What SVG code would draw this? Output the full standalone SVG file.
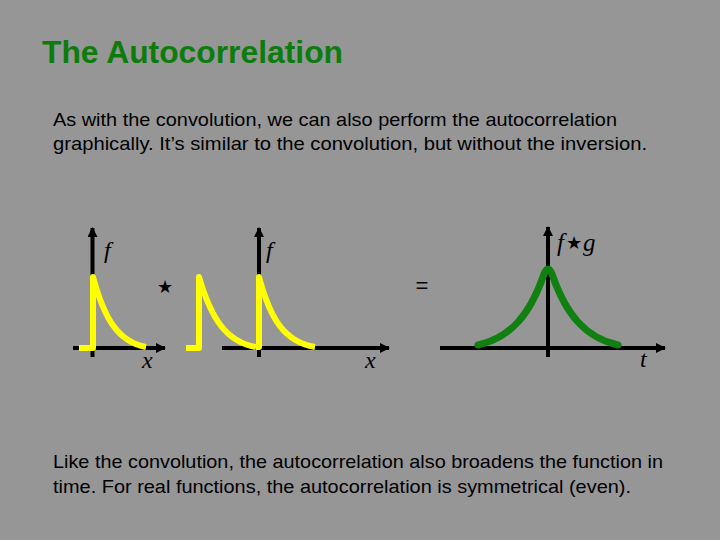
<svg xmlns="http://www.w3.org/2000/svg" width="720" height="540" viewBox="0 0 720 540">
<defs>
<marker id="ah" viewBox="0 0 10 10" refX="9" refY="5" markerWidth="10" markerHeight="10" markerUnits="userSpaceOnUse" orient="auto">
<path d="M0,0 L10,5 L0,10 z" fill="#000"/>
</marker>
<style>
.ax{stroke:#000;stroke-width:4;fill:none}
.yl{stroke:#ffff00;stroke-width:6;fill:none;stroke-linejoin:round}
.gr{stroke:#108010;stroke-width:7;fill:none;stroke-linecap:round;stroke-linejoin:round}
.body{font-family:"Liberation Sans",Arial,sans-serif;font-size:19px;fill:#000}
.math{font-family:"Liberation Serif","Times New Roman",serif;font-style:italic;font-size:24px;fill:#000}
</style>
</defs>
<rect width="720" height="540" fill="#969696"/>
<text x="42" y="63" font-family="Liberation Sans,Arial,sans-serif" font-size="32" font-weight="bold" fill="#0c7c0c" textLength="301" lengthAdjust="spacingAndGlyphs">The Autocorrelation</text>
<g id="intro" class="body">
<text x="53" y="126" textLength="564" lengthAdjust="spacingAndGlyphs">As with the convolution, we can also perform the autocorrelation</text>
<text x="53" y="149.5" textLength="594" lengthAdjust="spacingAndGlyphs">graphically.  It’s similar to the convolution, but without the inversion.</text>
</g>
<g id="connectors">
<line class="ax" x1="73" y1="348" x2="165" y2="348" marker-end="url(#ah)"/>
<line class="ax" x1="92.5" y1="357" x2="92.5" y2="228" marker-end="url(#ah)"/>
<line class="ax" x1="222" y1="348" x2="389" y2="348" marker-end="url(#ah)"/>
<line class="ax" x1="259" y1="357" x2="259" y2="228" marker-end="url(#ah)"/>
<line class="ax" x1="440" y1="348" x2="665" y2="348" marker-end="url(#ah)"/>
<line class="ax" x1="548" y1="357" x2="548" y2="227" marker-end="url(#ah)"/>
</g>
<g id="plot1">
<path class="yl" d="M79,348 L93,348 L93,277 C104,318 118,342 146,347"/>
<text class="math" x="104" y="258">f</text>
<text class="math" x="142" y="368">x</text>
</g>
<g id="star">
<text x="165" y="293" font-family="DejaVu Sans,sans-serif" font-size="18" text-anchor="middle" fill="#000">★</text>
</g>
<g id="plot2">
<path class="yl" d="M186,348 L199,348 L199,277 C211,318 226,342 256,347"/>
<path class="yl" d="M256,347 L259,347 L259,277 C270,318 284,342 315,347"/>
<text class="math" x="266" y="258">f</text>
<text class="math" x="365" y="368">x</text>
</g>
<g id="equals">
<text x="422" y="293" font-family="Liberation Sans,Arial,sans-serif" font-size="22" text-anchor="middle" fill="#000">=</text>
</g>
<g id="plot3">
<path class="gr" d="M478,345 C510,338 530,315 544,274 Q548,264 552,274 C566,315 586,338 618,345"/>
<text x="557" y="251" font-family="Liberation Serif,Times New Roman,serif" font-size="25" fill="#000"><tspan font-style="italic">f</tspan><tspan font-family="DejaVu Sans,sans-serif" font-size="18" dx="2" dy="-2">★</tspan><tspan font-style="italic" dx="1" dy="2">g</tspan></text>
<text class="math" x="640" y="367">t</text>
</g>
<g id="outro" class="body">
<text x="53" y="467.5" textLength="610" lengthAdjust="spacingAndGlyphs">Like the convolution, the autocorrelation also broadens the function in</text>
<text x="53" y="492.5" textLength="578" lengthAdjust="spacingAndGlyphs">time. For real functions, the autocorrelation is symmetrical (even).</text>
</g>
</svg>
